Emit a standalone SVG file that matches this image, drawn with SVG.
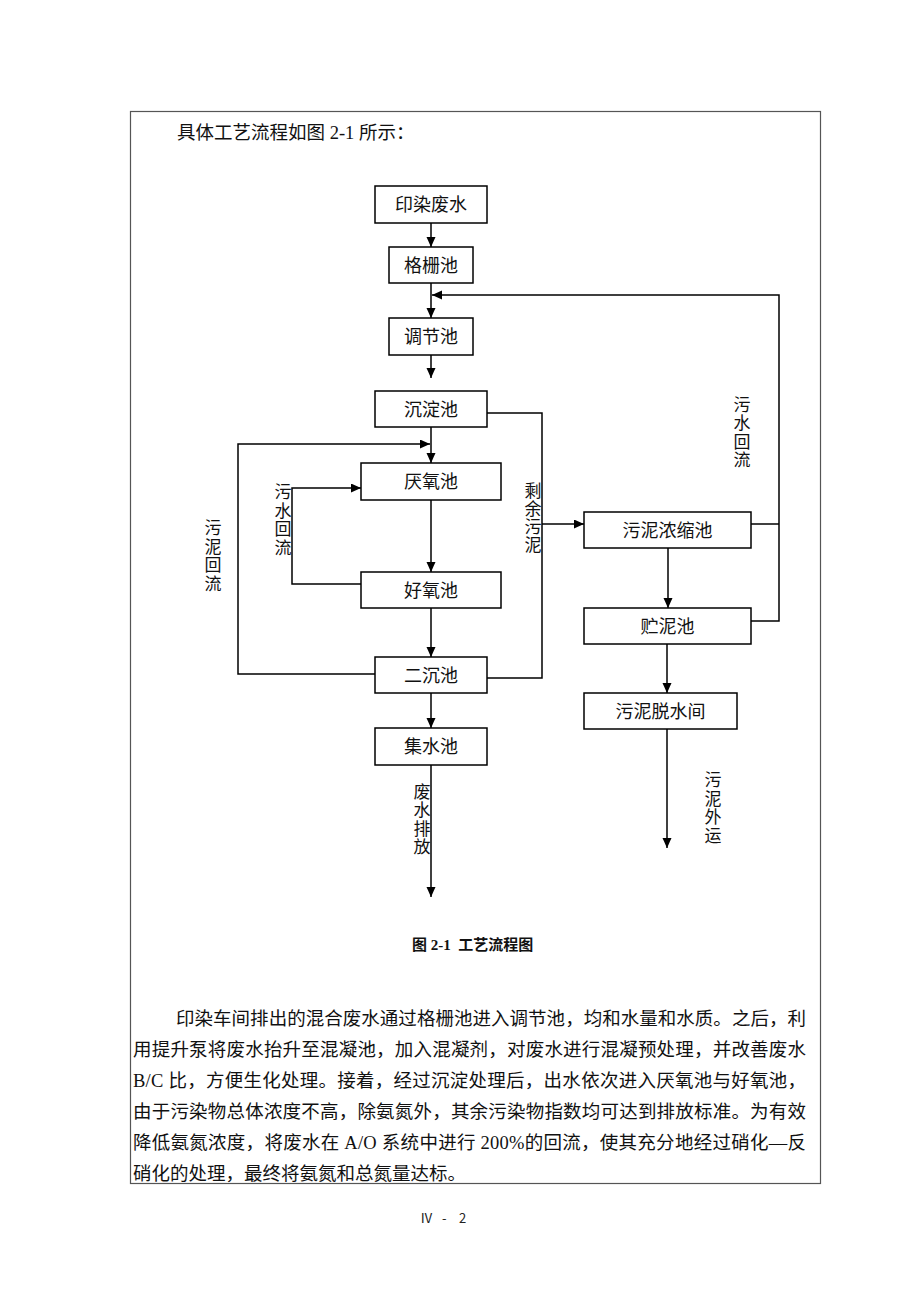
<svg xmlns="http://www.w3.org/2000/svg" width="920" height="1302" viewBox="0 0 920 1302">
<style>
.box{fill:#fff;stroke:#000;stroke-width:1.5}
.lbl{font-family:"Liberation Serif","Noto Sans CJK SC",serif;font-size:18px;fill:#111;text-anchor:middle}
.vl{font-family:"Liberation Serif","Noto Sans CJK SC",serif;font-size:17px;fill:#111;text-anchor:middle}
.body{font-family:"Liberation Serif","Noto Sans CJK SC",serif;font-size:18.5px;fill:#111}
.ln{fill:none;stroke:#000;stroke-width:1.5}
.arr{marker-end:url(#ah)}
</style>
<defs>
<marker id="ah" markerUnits="userSpaceOnUse" markerWidth="11" markerHeight="10" refX="10" refY="4.5" orient="auto">
<path d="M0,0 L10,4.5 L0,9 z" fill="#000"/>
</marker>
</defs>
<rect x="130.5" y="111.5" width="690" height="1072" fill="none" stroke="#555" stroke-width="1.2"/>
<text class="body" x="177" y="139">具体工艺流程如图 2-1 所示：</text>

<g id="connectors">
<line class="ln arr" x1="431" y1="223" x2="431" y2="247"/>
<line class="ln arr" x1="431" y1="283" x2="431" y2="318"/>
<line class="ln arr" x1="431" y1="355" x2="431" y2="378"/>
<line class="ln arr" x1="431" y1="427" x2="431" y2="463"/>
<polyline class="ln arr" points="375,674 238,674 238,444 430,444"/>
<line class="ln arr" x1="431" y1="500" x2="431" y2="572"/>
<polyline class="ln arr" points="361,584 292,584 292,488 361,488"/>
<line class="ln arr" x1="431" y1="608" x2="431" y2="657"/>
<polyline class="ln" points="487,413 542,413 542,678 487,678"/>
<line class="ln arr" x1="542" y1="524" x2="584" y2="524"/>
<line class="ln arr" x1="431" y1="693" x2="431" y2="728"/>
<line class="ln arr" x1="431" y1="765" x2="431" y2="897"/>
<line class="ln" x1="751" y1="524" x2="779" y2="524"/>
<polyline class="ln arr" points="751,621 779,621 779,295 432,295"/>
<line class="ln arr" x1="668" y1="548" x2="668" y2="608"/>
<line class="ln arr" x1="667" y1="644" x2="667" y2="693"/>
<line class="ln arr" x1="667" y1="729" x2="667" y2="848"/>
</g>

<g id="n1"><rect class="box" x="375" y="186" width="112" height="37"/><text class="lbl" x="431" y="211">印染废水</text></g>
<g id="n2"><rect class="box" x="389" y="247" width="84" height="36"/><text class="lbl" x="431" y="271.5">格栅池</text></g>
<g id="n3"><rect class="box" x="389" y="318" width="84" height="37"/><text class="lbl" x="431" y="343">调节池</text></g>
<g id="n4"><rect class="box" x="375" y="391" width="112" height="36"/><text class="lbl" x="431" y="415.5">沉淀池</text></g>
<g id="n5"><rect class="box" x="361" y="463" width="140" height="37"/><text class="lbl" x="431" y="488">厌氧池</text></g>
<g id="n6"><rect class="box" x="361" y="572" width="140" height="36"/><text class="lbl" x="431" y="596.5">好氧池</text></g>
<g id="n7"><rect class="box" x="375" y="657" width="112" height="36"/><text class="lbl" x="431" y="681.5">二沉池</text></g>
<g id="n8"><rect class="box" x="375" y="728" width="112" height="37"/><text class="lbl" x="431" y="753">集水池</text></g>
<g id="n9"><rect class="box" x="584" y="512" width="167" height="36"/><text class="lbl" x="667.5" y="536.5">污泥浓缩池</text></g>
<g id="n10"><rect class="box" x="584" y="608" width="167" height="36"/><text class="lbl" x="667.5" y="632.5">贮泥池</text></g>
<g id="n11"><rect class="box" x="584" y="693" width="153" height="36"/><text class="lbl" x="660.5" y="717.5">污泥脱水间</text></g>

<g id="labels">
<text class="vl"><tspan x="213" y="534">污</tspan><tspan x="213" y="552.5">泥</tspan><tspan x="213" y="571">回</tspan><tspan x="213" y="589.5">流</tspan></text>
<text class="vl"><tspan x="283" y="498">污</tspan><tspan x="283" y="516.5">水</tspan><tspan x="283" y="535">回</tspan><tspan x="283" y="553.5">流</tspan></text>
<text class="vl"><tspan x="533" y="497">剩</tspan><tspan x="533" y="515">余</tspan><tspan x="533" y="533">污</tspan><tspan x="533" y="551">泥</tspan></text>
<text class="vl"><tspan x="742" y="410.5">污</tspan><tspan x="742" y="429">水</tspan><tspan x="742" y="447.5">回</tspan><tspan x="742" y="466">流</tspan></text>
<text class="vl"><tspan x="422" y="797.5">废</tspan><tspan x="422" y="816">水</tspan><tspan x="422" y="834.5">排</tspan><tspan x="422" y="853">放</tspan></text>
<text class="vl"><tspan x="713" y="786">污</tspan><tspan x="713" y="804.5">泥</tspan><tspan x="713" y="823">外</tspan><tspan x="713" y="841.5">运</tspan></text>
</g>

<text x="412" y="950" font-family="Liberation Serif,'Noto Sans CJK SC',serif" font-size="15" font-weight="bold" fill="#111" xml:space="preserve">图 2-1  工艺流程图</text>

<text class="body" x="176" y="1025" textLength="630" lengthAdjust="spacing">印染车间排出的混合废水通过格栅池进入调节池，均和水量和水质。之后，利</text>
<text class="body" x="133" y="1056" textLength="673" lengthAdjust="spacing">用提升泵将废水抬升至混凝池，加入混凝剂，对废水进行混凝预处理，并改善废水</text>
<text class="body" x="133" y="1087" textLength="673" lengthAdjust="spacing">B/C 比，方便生化处理。接着，经过沉淀处理后，出水依次进入厌氧池与好氧池，</text>
<text class="body" x="133" y="1118" textLength="673" lengthAdjust="spacing">由于污染物总体浓度不高，除氨氮外，其余污染物指数均可达到排放标准。为有效</text>
<text class="body" x="133" y="1149" textLength="673" lengthAdjust="spacing">降低氨氮浓度，将废水在 A/O 系统中进行 200%的回流，使其充分地经过硝化—反</text>
<text class="body" x="133" y="1180">硝化的处理，最终将氨氮和总氮量达标。</text>

<text font-family="'Noto Sans CJK SC',sans-serif" font-size="13" fill="#222"><tspan x="420" y="1222.5">Ⅳ</tspan><tspan x="442" y="1222.5">-</tspan><tspan x="459" y="1222.5">2</tspan></text>
</svg>
